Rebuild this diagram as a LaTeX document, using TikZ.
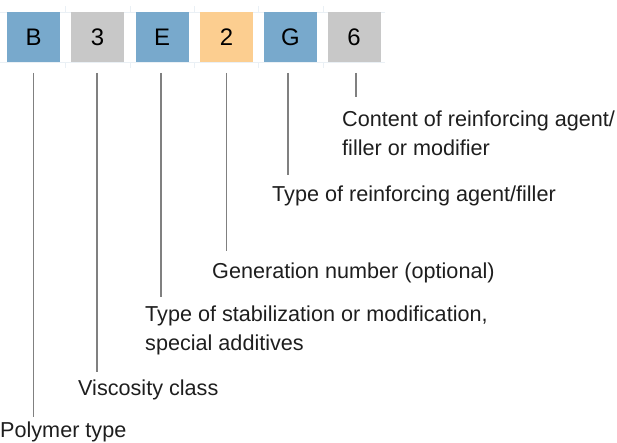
\documentclass[tikz,border=0pt]{standalone}
\usepackage{fontspec}
\setmainfont{Liberation Sans}
\usepackage{xcolor}
\usetikzlibrary{positioning}

\definecolor{codeblue}{HTML}{78A9CC}
\definecolor{codegray}{HTML}{C8C8C8}
\definecolor{codeorange}{HTML}{FCCE90}
\definecolor{guide}{HTML}{EAF0F5}
\definecolor{leadgray}{HTML}{808080}
\definecolor{txt}{HTML}{1E1E1E}

\begin{document}
\begin{tikzpicture}[x=1bp,y=1bp,
	box/.style={minimum width=53bp, minimum height=50bp, inner sep=0pt, font=\fontsize{24}{28}\selectfont, text=black},
	lab/.style={anchor=base west, align=left, inner sep=0pt, text=txt, font=\fontsize{21.7}{29.5}\selectfont},
	lead/.style={draw=leadgray, line width=1.4bp}]
	\useasboundingbox (0,0) rectangle (617,-443);

	% faint guides round the code
	\draw [guide, line width=0.8bp] (0,-12) -- (385,-12);
	\draw [guide, line width=0.8bp] (0,-62) -- (385,-62);
	\foreach \x in {65,130,194.5,258.5,323}
		\draw [guide, line width=0.8bp] (\x,-6) -- (\x,-12) (\x,-62) -- (\x,-68);

	\node (bB) at (33.5bp,-37bp)  [box, fill=codeblue]   {B};
	\node (b3) at (97.5bp,-37bp)  [box, fill=codegray]   {3};
	\node (bE) at (162bp,-37bp)   [box, fill=codeblue]   {E};
	\node (b2) at (226.5bp,-37bp) [box, fill=codeorange] {2};
	\node (bG) at (290.5bp,-37bp) [box, fill=codeblue]   {G};
	\node (b6) at (354bp,-37bp)   [box, fill=codegray]   {6};

	% base of a two-line label is its last line
	\node (tB) at (0bp,-437bp)   [lab] {Polymer type};
	\node (t3) at (78bp,-395bp)  [lab] {Viscosity class};
	\node (tE) at (145bp,-350.5bp) [lab] {Type of stabilization or modification,\\special additives};
	\node (t2) at (212bp,-278bp) [lab] {Generation number (optional)};
	\node (tG) at (272bp,-201bp) [lab] {Type of reinforcing agent/filler};
	\node (t6) at (342bp,-156bp) [lab] {Content of reinforcing agent/\\filler or modifier};

	\coordinate (eB) at (33.5bp,-417bp);
	\coordinate (e3) at (97bp,-372bp);
	\coordinate (eE) at (161bp,-297bp);
	\coordinate (e2) at (226.5bp,-251bp);
	\coordinate (eG) at (288bp,-175bp);
	\coordinate (e6) at (356bp,-97bp);

	\draw [lead] (33.5bp,-73bp) -- (eB);
	\draw [lead] (97bp,-73bp)   -- (e3);
	\draw [lead] (161bp,-73bp)  -- (eE);
	\draw [lead] (226.5bp,-73bp) -- (e2);
	\draw [lead] (288bp,-73bp)  -- (eG);
	\draw [lead] (356bp,-73bp)  -- (e6);
\end{tikzpicture}
\end{document}
